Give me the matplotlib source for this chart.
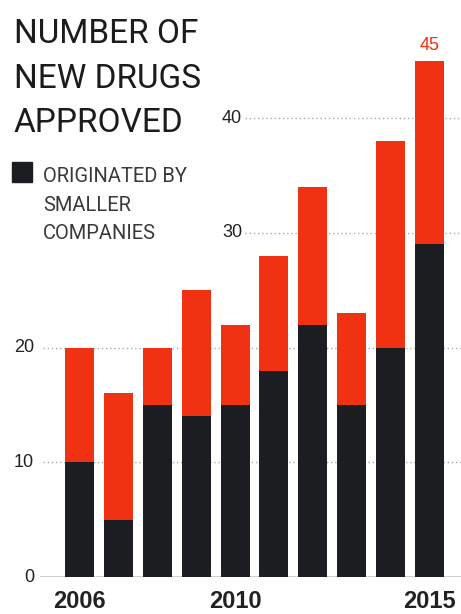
import matplotlib.pyplot as plt
from matplotlib.patches import Rectangle

# FDA approvals per year
years = [2006, 2007, 2008, 2009, 2010, 2011, 2012, 2013, 2014, 2015]
smaller = [10, 5, 15, 14, 15, 18, 22, 15, 20, 29]
total = [20, 16, 20, 25, 22, 28, 34, 23, 38, 45]
year_labels = ['2006', '2010', '2015']
y_ticks = [0, 10, 20, 30, 40]

other = [t - s for t, s in zip(total, smaller)]

RED = '#f03112'
BLACK = '#1c1d21'
W, H = 461, 614

fig = plt.figure(figsize=(W / 100, H / 100), dpi=100)
ax = fig.add_axes([40 / W, 37 / H, 421 / W, 577 / H])

x = list(range(len(years)))
ax.bar(x, smaller, width=0.745, color=BLACK, zorder=3)
ax.bar(x, other, bottom=smaller, width=0.745, color=RED, zorder=3)

ax.set_xlim(-1.015, 9.81)
ax.set_ylim(0, 50.3)
for s in ax.spines.values():
    s.set_visible(False)
ax.set_yticks([])

# dotted grid, upper lines start right of the title
for v in y_ticks[1:]:
    start = -0.93 if v < 30 else 4.25
    ax.hlines(v, start, 9.81, colors='#aaaaaa', linestyles=(0, (1, 2)), lw=1, zorder=1)
ax.axhline(0, color='#cfcfcf', lw=2.2, zorder=2)

for v in y_ticks:
    lx = -1.17 if v < 30 else 4.18
    ax.text(lx, v, str(v), ha='right', va='center', fontsize=13,
            color='#222222', family='Liberation Sans')

ax.set_xticks([years.index(int(y)) for y in year_labels])
ax.set_xticklabels(year_labels, fontsize=17, fontweight='bold',
                   family='Liberation Sans', color='#222222')
ax.tick_params(axis='x', length=0, pad=9)

ax.annotate(str(total[-1]), (9, total[-1]), xytext=(0, 5), textcoords='offset points',
            ha='center', va='bottom', fontsize=13, color=RED, family='Liberation Sans')

# title and legend
title_font = ['Roboto', 'DejaVu Sans']
for line, base in zip(['NUMBER OF', 'NEW DRUGS', 'APPROVED'], [43, 88, 132]):
    fig.text(14 / W, 1 - base / H, line, va='baseline', ha='left', fontsize=24,
             family=title_font, color='#1c1c1c')

fig.add_artist(Rectangle((12 / W, 1 - 182 / H), 20 / W, 20 / H,
                         transform=fig.transFigure, color=BLACK))
for line, base in zip(['ORIGINATED BY', 'SMALLER', 'COMPANIES'], [182, 211, 239]):
    fig.text(43 / W, 1 - base / H, line, va='baseline', ha='left', fontsize=14.5,
             family=title_font, color='#3a3a3a')

plt.savefig('out.png', dpi=100)
